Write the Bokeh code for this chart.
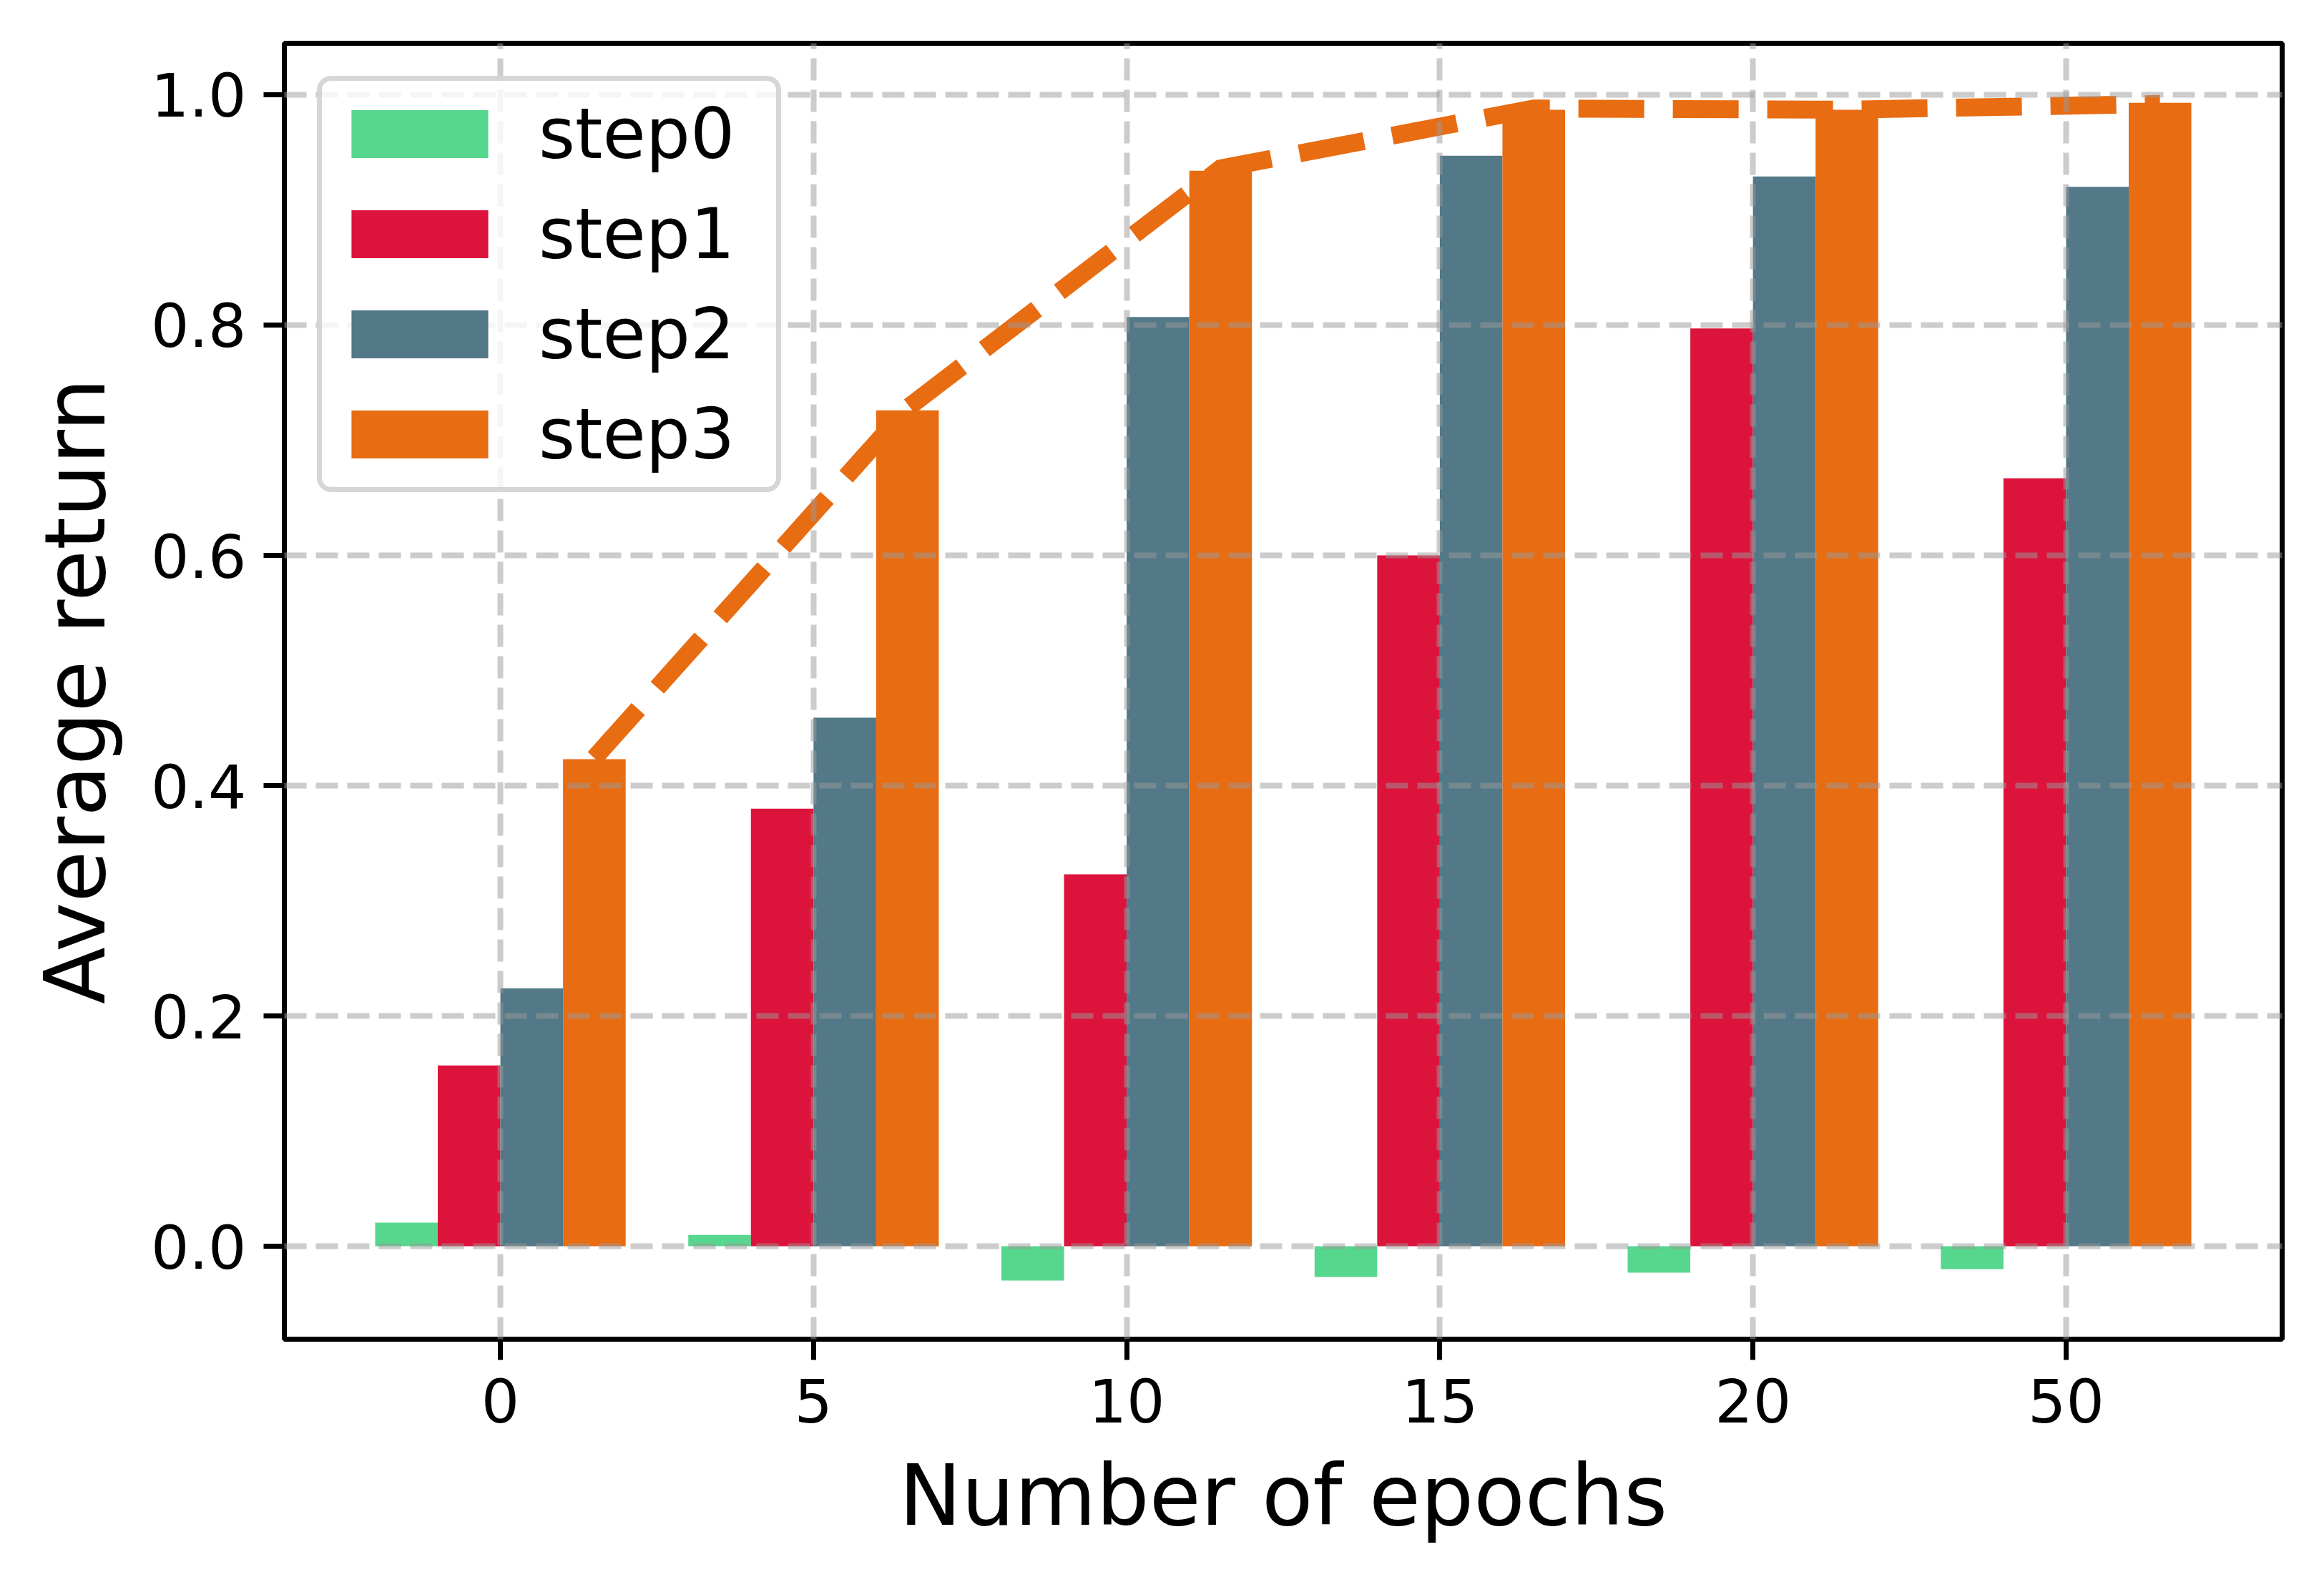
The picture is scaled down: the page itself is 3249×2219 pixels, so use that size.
from bokeh.plotting import figure
from bokeh.models import Range1d, FixedTicker, PrintfTickFormatter, ColumnDataSource
from bokeh.embed import file_html
from bokeh.resources import INLINE

# ---- data ----
epochs = ["0", "5", "10", "15", "20", "50"]
step0 = [0.0205, 0.0099, -0.0298, -0.0267, -0.0229, -0.0199]
step1 = [0.157, 0.380, 0.323, 0.600, 0.797, 0.667]
step2 = [0.224, 0.459, 0.807, 0.947, 0.929, 0.920]
step3 = [0.423, 0.726, 0.934, 0.987, 0.987, 0.993]
best_line = [0.424, 0.728, 0.936, 0.988, 0.987, 0.992]
series_names = ["step0", "step1", "step2", "step3"]
series_colors = ["#57D68D", "#DC143C", "#537887", "#E86C12"]

FONT = "DejaVu Sans"
W, H = 3233, 2203

p = figure(width=W, height=H, output_backend="svg", toolbar_location=None,
           x_range=Range1d(-0.69, 5.69), y_range=Range1d(-0.0807, 1.0447),
           min_border_left=397, min_border_right=43, min_border_top=60,
           min_border_bottom=331)
p.background_fill_color = "white"
p.border_fill_color = "white"
p.outline_line_color = "black"
p.outline_line_width = 7

bar_w = 0.2
idx = list(range(len(epochs)))
all_series = [step0, step1, step2, step3]
for k, (name, vals, col) in enumerate(zip(series_names, all_series, series_colors)):
    off = (k - 1.5) * bar_w
    src = ColumnDataSource(dict(x=[i + off for i in idx], top=vals))
    p.vbar(x="x", top="top", bottom=0, width=bar_w, source=src,
           fill_color=col, line_color=None, legend_label=name)

line_off = 1.5 * bar_w
lsrc = ColumnDataSource(dict(x=[i + line_off for i in idx], y=best_line))
p.line(x="x", y="y", source=lsrc, line_color=series_colors[3], line_width=25,
       line_dash="92 40", line_cap="butt", line_join="miter")

# axes
p.xaxis.ticker = FixedTicker(ticks=idx)
p.xaxis.major_label_overrides = {i: e for i, e in zip(idx, epochs)}
p.yaxis.ticker = FixedTicker(ticks=[0.0, 0.2, 0.4, 0.6, 0.8, 1.0])
p.yaxis.formatter = PrintfTickFormatter(format="%.1f")
for ax in (p.xaxis[0], p.yaxis[0]):
    ax.axis_line_color = None
    ax.major_tick_out = 29
    ax.major_tick_in = 0
    ax.major_tick_line_width = 7
    ax.major_tick_line_color = "black"
    ax.minor_tick_line_color = None
    ax.major_label_text_font = FONT
    ax.major_label_text_font_size = "84px"
    ax.major_label_text_color = "black"
    ax.axis_label_text_font = FONT
    ax.axis_label_text_font_size = "117px"
    ax.axis_label_text_font_style = "normal"
    ax.axis_label_text_color = "black"
p.xaxis.axis_label = "Number of epochs"
p.yaxis.axis_label = "Average return"
p.xaxis.major_label_standoff = 25
p.xaxis.axis_label_standoff = 31
p.yaxis.major_label_standoff = 24
p.yaxis.axis_label_standoff = 34

# grid (drawn above bars, below legend)
p.xgrid.ticker = FixedTicker(ticks=idx)
p.ygrid.ticker = FixedTicker(ticks=[0.0, 0.2, 0.4, 0.6, 0.8, 1.0])
for g in (p.xgrid[0], p.ygrid[0]):
    g.grid_line_color = "#999999"
    g.grid_line_alpha = 0.5
    g.grid_line_width = 8
    g.grid_line_dash = "31 13"
    g.level = "guide"

# legend
lg = p.legend[0]
lg.location = "top_left"
lg.margin = 46
lg.padding = 17
lg.spacing = 26
lg.glyph_width = 239
lg.glyph_height = 84
lg.label_standoff = 47
lg.label_width = 315
lg.label_text_font = FONT
lg.label_text_font_size = "98px"
lg.label_text_color = "black"
lg.background_fill_color = "white"
lg.background_fill_alpha = 0.8
lg.border_line_color = "#cccccc"
lg.border_line_alpha = 0.8
lg.border_line_width = 7
if "border_radius" in lg.properties():
    lg.border_radius = 20

open("out.html", "w").write(file_html(p, INLINE))
